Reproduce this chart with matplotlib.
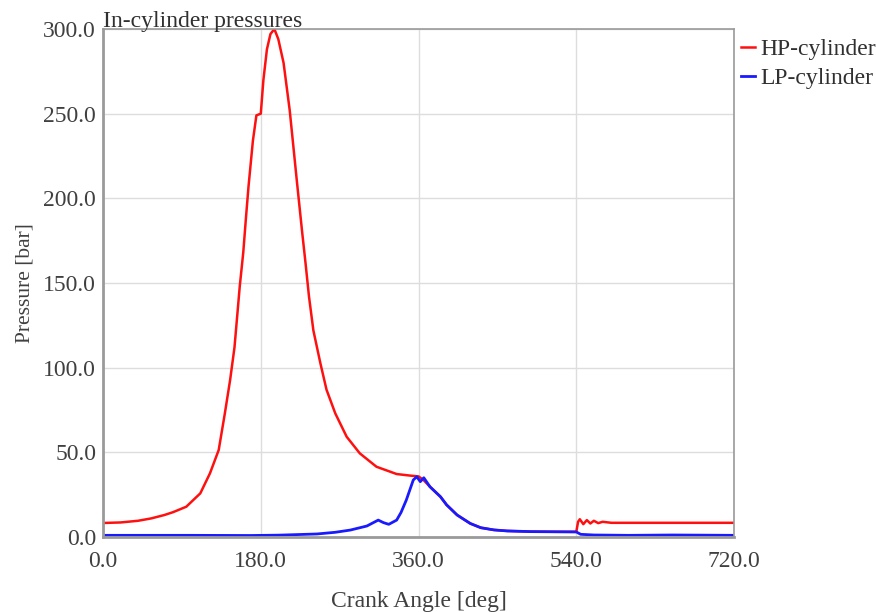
import matplotlib.pyplot as plt

# HP-cylinder pressure
hp_angle = [0, 20, 40, 55, 70, 80, 95, 111, 122, 132, 139, 145, 150, 153, 156, 160,
            163, 166, 171, 175, 180, 183, 187, 191, 195.5, 200, 206, 213, 221, 227,
            231, 235, 240, 248, 255, 265, 278, 293, 312, 335, 350, 360, 366, 373,
            385, 392, 404, 419, 431, 446, 461, 488, 515, 540, 542, 544, 548, 552,
            556, 560, 565, 570, 580, 600, 720]
hp_press = [8.3, 8.6, 9.6, 11.0, 13.0, 14.7, 17.9, 25.8, 37.6, 51.4, 73.0, 92.7, 112.0,
            130.0, 148.0, 168.0, 188.0, 207.0, 234.0, 249.0, 250.0, 270.0, 288.0,
            297.0, 300.0, 294.0, 280.0, 252.0, 211.0, 181.0, 162.0, 142.0, 122.0,
            102.6, 87.0, 73.0, 59.2, 49.4, 41.5, 37.2, 36.3, 35.8, 33.5, 29.7, 23.8,
            19.0, 13.0, 8.0, 5.5, 4.2, 3.6, 3.2, 3.1, 3.1, 9.0, 10.5, 7.6, 10.0, 8.0,
            9.6, 8.2, 9.0, 8.4, 8.4, 8.4]

# LP-cylinder pressure
lp_angle = [0, 100, 168, 200, 244, 265, 282, 301, 314, 320, 326, 335, 340, 346, 354,
            358, 362, 366, 373, 385, 392, 404, 419, 431, 446, 461, 488, 515, 540,
            545, 560, 600, 650, 720]
lp_press = [1.0, 1.0, 0.9, 1.1, 1.8, 2.8, 4.1, 6.5, 10.0, 8.5, 7.5, 10.0, 14.5, 21.8,
            33.7, 35.6, 32.7, 35.0, 29.7, 23.8, 19.0, 13.0, 8.0, 5.5, 4.2, 3.6, 3.2,
            3.1, 3.0, 1.6, 1.2, 1.0, 1.2, 1.0]

x_ticks = [0, 180, 360, 540, 720]
y_ticks = [0, 50, 100, 150, 200, 250, 300]

plt.rcParams['font.family'] = ['Liberation Serif', 'DejaVu Serif']
fs = 17

fig = plt.figure(figsize=(8.76, 6.12), dpi=100)
ax = fig.add_axes([0.1176, 0.1225, 0.7204, 0.8301])

ax.plot(hp_angle, hp_press, color='#ff1010', lw=1.8, label='HP-cylinder')
ax.plot(lp_angle, lp_press, color='#1a1aff', lw=2.0, label='LP-cylinder')

ax.set_xlim(0, 720)
ax.set_ylim(0, 300)
ax.set_xticks(x_ticks)
ax.set_yticks(y_ticks)
ax.set_xticklabels([f'{v:.1f}' for v in x_ticks])
ax.set_yticklabels([f'{v:.1f}' for v in y_ticks])
ax.tick_params(length=0, labelsize=fs, labelcolor='#404040')
ax.tick_params(axis='x', pad=10)
ax.tick_params(axis='y', pad=5)
ax.grid(True, color='#dddddd', lw=1)
ax.set_axisbelow(True)
for side in ['top', 'right']:
    ax.spines[side].set_color('#9a9a9a')
    ax.spines[side].set_linewidth(1.2)
for side in ['left', 'bottom']:
    ax.spines[side].set_color('#9a9a9a')
    ax.spines[side].set_linewidth(2)

ax.set_xlabel('Crank Angle [deg]', fontsize=fs, color='#404040', labelpad=14)
ax.set_ylabel('Pressure [bar]', fontsize=15.5, color='#404040', labelpad=6)
ax.text(0, 1.004, 'In-cylinder pressures', transform=ax.transAxes, fontsize=fs,
        color='#303030', ha='left', va='baseline')

ax.legend(loc='upper left', bbox_to_anchor=(1.0, 0.995), frameon=False, fontsize=fs,
          handlelength=0.6, handletextpad=0.2, labelspacing=0.3, borderaxespad=0.1,
          borderpad=0.2, labelcolor='#303030')

fig.savefig('out.png', dpi=100)
